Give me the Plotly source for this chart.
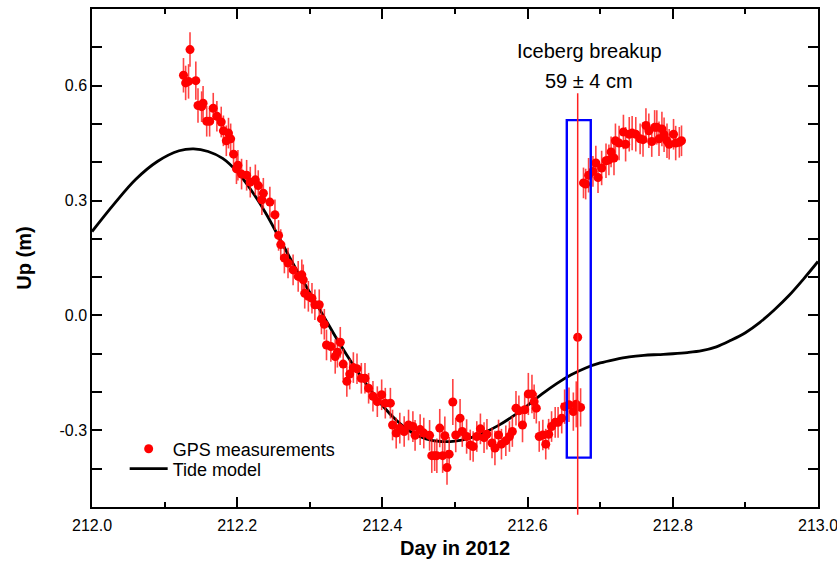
import plotly.graph_objects as go

# ---------------- data ----------------
gps_day = [
    212.126, 212.129, 212.133, 212.135, 212.143, 212.146, 212.151, 212.153, 212.158, 212.162,
    212.167, 212.172, 212.178, 212.181, 212.185, 212.188, 212.191, 212.195, 212.199, 212.201,
    212.206, 212.213, 212.218, 212.225, 212.229, 212.234, 212.236, 212.245, 212.252, 212.257,
    212.260, 212.265, 212.270, 212.277, 212.284, 212.289, 212.291, 212.293, 212.298, 212.303,
    212.307, 212.313, 212.316, 212.320, 212.323, 212.329, 212.335, 212.338, 212.342, 212.346,
    212.351, 212.355, 212.360, 212.365, 212.371, 212.376, 212.381, 212.387, 212.393, 212.399,
    212.404, 212.411, 212.414, 212.419, 212.424, 212.430, 212.436, 212.442, 212.445, 212.452,
    212.457, 212.465, 212.468, 212.472, 212.475, 212.479, 212.483, 212.486, 212.489, 212.492,
    212.497, 212.501, 212.507, 212.510, 212.516, 212.521, 212.525, 212.530, 212.535, 212.540,
    212.544, 212.551, 212.555, 212.560, 212.564, 212.570, 212.575, 212.579, 212.584, 212.588,
    212.593, 212.596, 212.601, 212.606, 212.609, 212.612, 212.616, 212.621, 212.625, 212.629,
    212.633, 212.638, 212.642, 212.647, 212.651, 212.657, 212.663, 212.667, 212.669, 212.673,
    212.677, 212.680, 212.684, 212.690, 212.694, 212.697, 212.702, 212.708, 212.712, 212.715,
    212.719, 212.721, 212.726, 212.732, 212.735, 212.740, 212.744, 212.749, 212.755, 212.759,
    212.763, 212.767, 212.771, 212.775, 212.778, 212.781, 212.785, 212.788, 212.792, 212.795,
    212.801, 212.804, 212.809, 212.812,
]
gps_up = [
    0.627, 0.607, 0.611, 0.694, 0.613, 0.548, 0.545, 0.554, 0.507, 0.507,
    0.541, 0.520, 0.505, 0.482, 0.456, 0.476, 0.461, 0.421, 0.383, 0.392,
    0.369, 0.366, 0.348, 0.354, 0.339, 0.302, 0.319, 0.296, 0.263, 0.209,
    0.185, 0.150, 0.137, 0.119, 0.102, 0.106, 0.093, 0.058, 0.050, 0.045,
    0.028, 0.028, -0.009, -0.023, -0.077, -0.081, -0.107, -0.096, -0.070, -0.127,
    -0.172, -0.153, -0.136, -0.139, -0.164, -0.164, -0.190, -0.211, -0.225, -0.207,
    -0.229, -0.229, -0.286, -0.307, -0.294, -0.303, -0.286, -0.290, -0.313, -0.298,
    -0.307, -0.313, -0.366, -0.366, -0.366, -0.294, -0.366, -0.314, -0.397, -0.362,
    -0.226, -0.312, -0.268, -0.303, -0.316, -0.338, -0.342, -0.316, -0.296, -0.319,
    -0.310, -0.333, -0.346, -0.312, -0.336, -0.327, -0.316, -0.303, -0.242, -0.249,
    -0.286, -0.246, -0.205, -0.205, -0.225, -0.242, -0.316, -0.312, -0.336, -0.310,
    -0.290, -0.279, -0.279, -0.268, -0.238, -0.233, -0.251, -0.232, -0.057, -0.240,
    0.346, 0.343, 0.366, 0.376, 0.398, 0.360, 0.385, 0.404, 0.406, 0.427,
    0.411, 0.456, 0.450, 0.479, 0.447, 0.473, 0.476, 0.473, 0.461, 0.459,
    0.496, 0.482, 0.454, 0.491, 0.491, 0.461, 0.487, 0.472, 0.456, 0.447,
    0.473, 0.450, 0.452, 0.456,
]
gps_err = [
    0.045, 0.045, 0.045, 0.045, 0.050, 0.045, 0.040, 0.045, 0.040, 0.040,
    0.040, 0.040, 0.040, 0.040, 0.040, 0.040, 0.040, 0.035, 0.040, 0.040,
    0.040, 0.040, 0.040, 0.040, 0.040, 0.040, 0.040, 0.040, 0.040, 0.040,
    0.040, 0.040, 0.040, 0.040, 0.040, 0.040, 0.040, 0.040, 0.040, 0.040,
    0.040, 0.040, 0.040, 0.040, 0.040, 0.040, 0.045, 0.040, 0.040, 0.040,
    0.040, 0.040, 0.040, 0.040, 0.040, 0.040, 0.040, 0.040, 0.040, 0.040,
    0.040, 0.040, 0.040, 0.040, 0.040, 0.040, 0.040, 0.040, 0.040, 0.040,
    0.040, 0.040, 0.045, 0.040, 0.045, 0.050, 0.045, 0.050, 0.045, 0.045,
    0.060, 0.045, 0.050, 0.040, 0.045, 0.040, 0.040, 0.040, 0.040, 0.040,
    0.040, 0.040, 0.045, 0.040, 0.040, 0.040, 0.040, 0.040, 0.045, 0.040,
    0.045, 0.040, 0.055, 0.050, 0.045, 0.040, 0.040, 0.040, 0.040, 0.040,
    0.040, 0.040, 0.040, 0.040, 0.045, 0.045, 0.050, 0.060, 0.0, 0.050,
    0.040, 0.040, 0.045, 0.040, 0.045, 0.040, 0.045, 0.045, 0.040, 0.040,
    0.045, 0.045, 0.045, 0.045, 0.045, 0.045, 0.045, 0.045, 0.040, 0.045,
    0.045, 0.045, 0.040, 0.045, 0.045, 0.045, 0.045, 0.045, 0.045, 0.040,
    0.040, 0.045, 0.040, 0.040,
]

tide_day = [212.00, 212.03, 212.06, 212.09, 212.12, 212.14, 212.16, 212.18, 212.20, 212.22,
            212.24, 212.26, 212.28, 212.30, 212.32, 212.34, 212.36, 212.38, 212.40, 212.42,
            212.44, 212.46, 212.48, 212.50, 212.52, 212.54, 212.56, 212.58, 212.60, 212.62,
            212.64, 212.66, 212.68, 212.70, 212.72, 212.74, 212.76, 212.78, 212.80, 212.82,
            212.84, 212.86, 212.88, 212.90, 212.92, 212.94, 212.96, 212.98, 213.00]
tide_up = [0.219, 0.290, 0.355, 0.402, 0.430, 0.435, 0.428, 0.410, 0.375, 0.325,
           0.265, 0.195, 0.125, 0.060, -0.005, -0.070, -0.130, -0.185, -0.235, -0.275,
           -0.305, -0.322, -0.329, -0.328, -0.320, -0.306, -0.287, -0.263, -0.235, -0.205,
           -0.178, -0.155, -0.137, -0.124, -0.115, -0.108, -0.104, -0.102, -0.100, -0.097,
           -0.092, -0.082, -0.065, -0.045, -0.018, 0.015, 0.052, 0.095, 0.141]

x_range = [212.0, 213.0]
y_range = [-0.5, 0.8]
x_tick_vals = [212.0, 212.2, 212.4, 212.6, 212.8, 213.0]
x_tick_text = ["212.0", "212.2", "212.4", "212.6", "212.8", "213.0"]
y_tick_vals = [-0.3, 0.0, 0.3, 0.6]
y_tick_text = ["-0.3", "0.0", "0.3", "0.6"]

breakup_day = 212.669
breakup_line_top = 0.58
breakup_line_bottom = -0.52
box_day = [212.654, 212.687]
box_up = [-0.371, 0.510]
label_day = 212.685
label_title_up = 0.691
label_value_up = 0.613

assert len(gps_day) == len(gps_up) == len(gps_err)

FONT = "Liberation Sans, Arial, sans-serif"

fig = go.Figure()
fig.add_trace(go.Scatter(
    x=tide_day, y=tide_up, mode="lines", name="Tide model", legend="legend2",
    line=dict(color="black", width=2.8, shape="spline", smoothing=1.0),
))
fig.add_trace(go.Scatter(
    x=gps_day, y=gps_up, mode="markers", name="GPS measurements", legend="legend",
    marker=dict(color="#ff0000", size=9),
    error_y=dict(type="data", array=gps_err, visible=True, color="rgba(255,20,20,0.8)",
                 thickness=1.6, width=0),
))

def to_paper_x(v):
    return (v - x_range[0]) / (x_range[1] - x_range[0])

def to_paper_y(v):
    return (v - y_range[0]) / (y_range[1] - y_range[0])

shapes = [
    dict(type="rect", xref="x", yref="y", x0=box_day[0], x1=box_day[1],
         y0=box_up[0], y1=box_up[1], line=dict(color="#0000ff", width=2.4),
         fillcolor="rgba(0,0,0,0)", layer="above"),
    dict(type="line", xref="paper", yref="paper",
         x0=to_paper_x(breakup_day), x1=to_paper_x(breakup_day),
         y0=to_paper_y(breakup_line_bottom), y1=to_paper_y(breakup_line_top),
         line=dict(color="#ff2020", width=1.5), layer="above"),
]

axis_common = dict(
    showline=True, linecolor="black", linewidth=1.5, mirror="ticks",
    ticks="inside", tickcolor="black", tickwidth=1.5, ticklen=10,
    showgrid=False, zeroline=False, automargin=False,
    ticklabeloverflow="allow",
    tickfont=dict(family=FONT, size=16, color="black"),
)

legend_common = dict(
    xanchor="left", yanchor="top", bgcolor="rgba(0,0,0,0)", borderwidth=0,
    font=dict(family=FONT, size=18, color="black"), itemwidth=38,
)

fig.update_layout(
    width=837, height=566,
    margin=dict(l=92, r=19, t=9, b=59),
    paper_bgcolor="white", plot_bgcolor="white",
    font=dict(family=FONT, color="black"),
    shapes=shapes,
    annotations=[
        dict(x=label_day, y=label_title_up, xref="x", yref="y", text="Iceberg breakup",
             showarrow=False, font=dict(family=FONT, size=20, color="black")),
        dict(x=label_day, y=label_value_up, xref="x", yref="y", text="59 ± 4 cm",
             showarrow=False, font=dict(family=FONT, size=20, color="black")),
    ],
    xaxis=dict(
        range=x_range, tickmode="array", tickvals=x_tick_vals, ticktext=x_tick_text,
        ticklabelstandoff=3,
        minor=dict(dtick=0.1, tick0=212.0, ticks="inside", ticklen=5, tickwidth=1.5,
                   tickcolor="black"),
        title=dict(text="<b>Day in 2012</b>", font=dict(family=FONT, size=20), standoff=8),
        **axis_common,
    ),
    yaxis=dict(
        range=y_range, tickmode="array", tickvals=y_tick_vals, ticktext=y_tick_text,
        minor=dict(dtick=0.1, tick0=0.0, ticks="inside", ticklen=10, tickwidth=1.5,
                   tickcolor="black"),
        title=dict(text="<b>Up (m)</b>", font=dict(family=FONT, size=20), standoff=22),
        **axis_common,
    ),
    showlegend=True,
    legend=dict(x=0.045, y=0.1535, **legend_common),
    legend2=dict(x=0.045, y=0.1135, **legend_common),
)

fig.write_html("out.html", config={"displayModeBar": False},
               post_script="document.body.style.margin='0';")
